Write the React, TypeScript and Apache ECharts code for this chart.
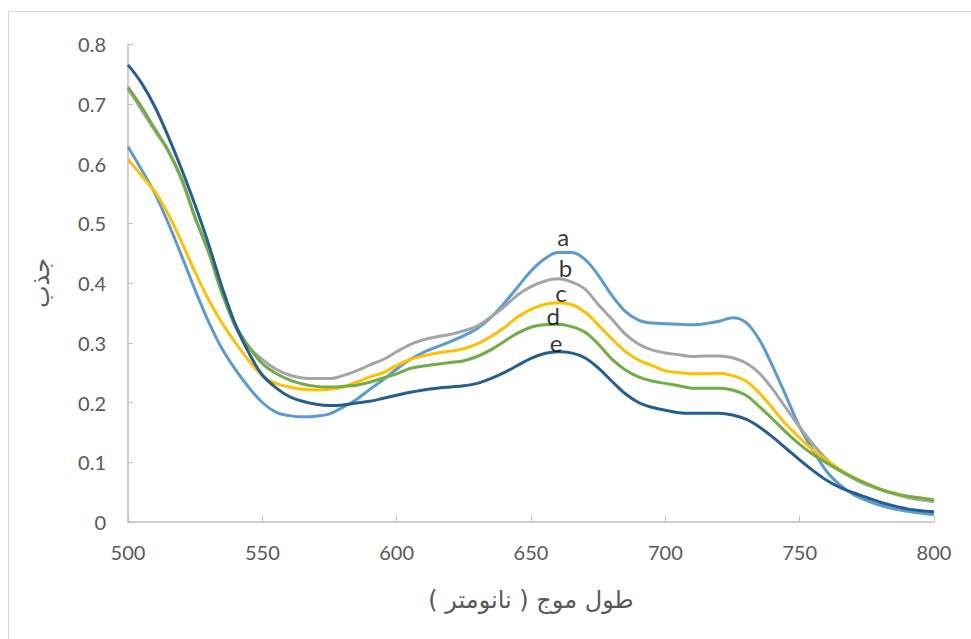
import React, { useEffect, useRef } from "react";
import * as echarts from "echarts";

const wavelengths = [
  500, 505, 510, 515, 520, 525, 530, 535, 540, 545, 550, 555, 560, 565, 570, 575, 580, 585, 590, 595,
  600, 605, 610, 615, 620, 625, 630, 635, 640, 645, 650, 655, 660, 665, 670, 675, 680, 685, 690, 695,
  700, 705, 710, 715, 720, 725, 730, 735, 740, 745, 750, 755, 760, 765, 770, 775, 780, 785, 790, 795, 800,
];

const seriesA = [
  0.628, 0.59, 0.55, 0.5, 0.445, 0.388, 0.335, 0.29, 0.255, 0.225, 0.2, 0.184, 0.178, 0.176, 0.177, 0.181,
  0.192, 0.205, 0.222, 0.238, 0.256, 0.272, 0.284, 0.293, 0.302, 0.312, 0.324, 0.342, 0.366, 0.393, 0.42,
  0.44, 0.451, 0.451, 0.44, 0.413, 0.38, 0.353, 0.338, 0.333, 0.332, 0.331, 0.33, 0.332, 0.336, 0.342,
  0.334, 0.305, 0.26, 0.21, 0.159, 0.12, 0.085, 0.062, 0.046, 0.036, 0.028, 0.022, 0.018, 0.015, 0.012,
];

const seriesB = [
  0.725, 0.69, 0.655, 0.62, 0.572, 0.508, 0.452, 0.385, 0.326, 0.293, 0.272, 0.256, 0.246, 0.241, 0.24, 0.24,
  0.245, 0.253, 0.263, 0.272, 0.285, 0.297, 0.305, 0.31, 0.314, 0.32, 0.328, 0.343, 0.36, 0.38, 0.394,
  0.403, 0.407, 0.402, 0.39, 0.364, 0.34, 0.315, 0.298, 0.288, 0.283, 0.28, 0.277, 0.278, 0.278, 0.275,
  0.266, 0.249, 0.222, 0.19, 0.159, 0.13, 0.105, 0.086, 0.073, 0.062, 0.054, 0.047, 0.041, 0.037, 0.034,
];

const seriesC = [
  0.607, 0.58, 0.553, 0.515, 0.468, 0.418, 0.372, 0.333, 0.3, 0.27, 0.245, 0.232, 0.226, 0.222, 0.221, 0.222,
  0.226, 0.234, 0.243, 0.25, 0.262, 0.272, 0.278, 0.283, 0.286, 0.29, 0.298, 0.31, 0.325, 0.343, 0.356,
  0.364, 0.367, 0.364, 0.352, 0.33, 0.307, 0.286, 0.271, 0.262, 0.253, 0.25, 0.248, 0.248, 0.249, 0.245,
  0.236, 0.216, 0.19, 0.163, 0.141, 0.12, 0.104, 0.088, 0.075, 0.064, 0.055, 0.048, 0.043, 0.04, 0.037,
];

const seriesD = [
  0.728, 0.695, 0.658, 0.622, 0.574, 0.51, 0.452, 0.382, 0.33, 0.293, 0.265, 0.249, 0.238, 0.231, 0.227,
  0.226, 0.227, 0.229, 0.234, 0.241, 0.248, 0.257, 0.261, 0.264, 0.267, 0.27, 0.277, 0.288, 0.302, 0.316,
  0.326, 0.33, 0.331, 0.327, 0.318, 0.298, 0.273, 0.255, 0.243, 0.236, 0.232, 0.228, 0.224, 0.224, 0.224,
  0.221, 0.212, 0.193, 0.172, 0.15, 0.13, 0.113, 0.099, 0.086, 0.074, 0.064, 0.055, 0.048, 0.043, 0.04, 0.037,
];

const seriesE = [
  0.765, 0.735, 0.695, 0.645, 0.59, 0.53, 0.465, 0.393, 0.33, 0.283, 0.246, 0.225, 0.21, 0.202, 0.197, 0.195,
  0.196, 0.199, 0.202, 0.207, 0.212, 0.217, 0.221, 0.224, 0.226, 0.228, 0.232, 0.24, 0.25, 0.262, 0.274,
  0.282, 0.285, 0.283, 0.275, 0.258, 0.236, 0.215, 0.2, 0.192, 0.187, 0.183, 0.182, 0.182, 0.182, 0.179,
  0.172, 0.159, 0.142, 0.123, 0.104, 0.086, 0.07, 0.058, 0.049, 0.041, 0.033, 0.027, 0.022, 0.019, 0.017,
];

const seriesNames = ["a", "b", "c", "d", "e"];
const seriesValues = [seriesA, seriesB, seriesC, seriesD, seriesE];
const seriesColors = ["#5B9BD5", "#A5A5A5", "#FFC000", "#70AD47", "#255E91"];

const peakLabels = ["a", "b", "c", "d", "e"];
const peakLabelX = [662, 662.8, 661.2, 658.3, 659.3];
const peakLabelY = [0.478, 0.426, 0.384, 0.346, 0.301];

const xTitle = "طول موج ( نانومتر )";
const yTitle = "جذب";

export default function App() {
  const ref = useRef<HTMLDivElement>(null);
  useEffect(() => {
    if (!ref.current) return;
    const chart = echarts.init(ref.current, null, { renderer: "svg" });
    const lineSeries = seriesValues.map((vals, i) => ({
      name: seriesNames[i],
      type: "line",
      data: wavelengths.map((w, j) => [w, vals[j]]),
      smooth: 0.35,
      showSymbol: false,
      symbol: "none",
      lineStyle: { color: seriesColors[i], width: 3 },
      itemStyle: { color: seriesColors[i] },
      z: 2 + i,
    }));
    const labelSeries = {
      type: "scatter",
      symbolSize: 0,
      z: 10,
      data: peakLabels.map((t, i) => ({ name: t, value: [peakLabelX[i], peakLabelY[i]] })),
      label: {
        show: true,
        position: "inside",
        formatter: (p: any) => p.name,
        color: "#000000",
        fontSize: 24,
        lineHeight: 18,
        fontFamily: "Lato",
      },
    };
    chart.setOption({
      animation: false,
      backgroundColor: "#ffffff",
      grid: { left: 128, right: 37, top: 44, bottom: 117, containLabel: false },
      xAxis: {
        type: "value",
        min: 500,
        max: 800,
        interval: 50,
        name: xTitle,
        nameLocation: "middle",
        nameGap: 66,
        nameTextStyle: { fontFamily: "DejaVu Sans", fontSize: 24, color: "#595959" },
        axisLine: { show: true, lineStyle: { color: "#bfbfbf", width: 1.5 } },
        axisTick: { show: true, inside: true, length: 6, lineStyle: { color: "#bfbfbf" } },
        axisLabel: { margin: 20, fontFamily: "Lato", fontSize: 20, color: "#595959" },
        splitLine: { show: false },
      },
      yAxis: {
        type: "value",
        min: 0,
        max: 0.8,
        interval: 0.1,
        name: yTitle,
        nameLocation: "middle",
        nameRotate: 90,
        nameGap: 75,
        nameTextStyle: { fontFamily: "DejaVu Sans", fontSize: 24, color: "#595959" },
        axisLine: { show: true, lineStyle: { color: "#bfbfbf", width: 1.5 } },
        axisTick: { show: true, inside: true, length: 5, lineStyle: { color: "#bfbfbf" } },
        axisLabel: { margin: 22, fontFamily: "Lato", fontSize: 20, color: "#595959" },
        splitLine: { show: false },
      },
      graphic: [
        {
          type: "rect",
          shape: { x: 8.5, y: 11.5, width: 1200, height: 1200 },
          style: { fill: "none", stroke: "#d9d9d9", lineWidth: 1 },
          silent: true,
        },
      ],
      series: [...lineSeries, labelSeries],
    });
    return () => chart.dispose();
  }, []);
  return (
    <div
      ref={ref}
      style={{ position: "fixed", left: 0, top: 0, width: 971, height: 639, background: "#fff" }}
    />
  );
}
